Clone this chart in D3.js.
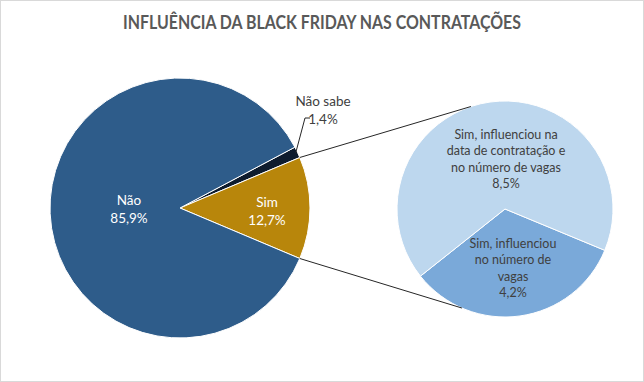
<!DOCTYPE html>
<html><head><meta charset="utf-8">
<script src="https://cdn.jsdelivr.net/npm/d3@7"></script>
<style>html,body{margin:0;padding:0;background:#fff;}svg{display:block;font-family:Lato,"Open Sans",sans-serif;}</style>
</head><body>
<svg id="c" width="644" height="382"></svg>
<script>
const title = "INFLUÊNCIA DA BLACK FRIDAY NAS CONTRATAÇÕES";
const mainLabels = ["Não sabe", "Sim", "Não"];
const mainValues = [1.4, 12.7, 85.9];
const mainText = ["1,4%", "12,7%", "85,9%"];
const subLabels = [["Sim, influenciou", "no número de", "vagas"], ["Sim, influenciou na", "data de contratação e", "no número de vagas"]];
const subValues = [4.2, 8.5];
const subText = ["4,2%", "8,5%"];

const svg = d3.select("#c");
svg.append("rect").attr("x",0.5).attr("y",0.5).attr("width",643).attr("height",381)
  .attr("fill","#fff").attr("stroke","#d9d9d9");

svg.append("text").attr("x",322).attr("y",29).attr("text-anchor","middle")
  .attr("font-size",18).attr("font-weight","bold").attr("fill","#595959")
  .attr("textLength",398).attr("lengthAdjust","spacingAndGlyphs").text(title);

// main pie
const mc = [180, 208], mr = 130;
const simDeg = 12.7/100*360;
const mainStart = (90 - simDeg/2 - 1.4/100*360) * Math.PI/180;
const mainPie = d3.pie().sort(null).value(d=>d).startAngle(mainStart).endAngle(mainStart + 2*Math.PI);
const mainArcs = mainPie(mainValues);
const mainColors = ["#0e1c2e", "#b8860b", "#2e5c8a"];
const arcM = d3.arc().innerRadius(0).outerRadius(mr);
const gm = svg.append("g").attr("transform",`translate(${mc})`);
gm.selectAll("path").data(mainArcs).join("path").attr("d",arcM)
  .attr("fill",(d,i)=>mainColors[i]).attr("stroke","#fff").attr("stroke-width",1);

// secondary pie
const sc = [505, 209], sr = 108;
const subStart = 112.5*Math.PI/180;
const subPie = d3.pie().sort(null).value(d=>d).startAngle(subStart).endAngle(subStart+2*Math.PI);
const subArcs = subPie(subValues);
const subColors = ["#7aa9d9", "#bdd7ee"];
const arcS = d3.arc().innerRadius(0).outerRadius(sr);
const gs = svg.append("g").attr("transform",`translate(${sc})`);
gs.selectAll("path").data(subArcs).join("path").attr("d",arcS)
  .attr("fill",(d,i)=>subColors[i]).attr("stroke","#fff").attr("stroke-width",1);

// connectors
const sim = mainArcs[1];
function pt(c, r, a){ return [c[0] + r*Math.sin(a), c[1] - r*Math.cos(a)]; }
const p1 = pt(mc, mr, sim.startAngle), p2 = pt(mc, mr, sim.endAngle);
const q1 = pt(sc, sr, 341.6*Math.PI/180), q2 = pt(sc, sr, 203.5*Math.PI/180);
svg.append("line").attr("x1",p1[0]).attr("y1",p1[1]).attr("x2",q1[0]).attr("y2",q1[1]).attr("stroke","#262626").attr("stroke-width",1);
svg.append("line").attr("x1",p2[0]).attr("y1",p2[1]).attr("x2",q2[0]).attr("y2",q2[1]).attr("stroke","#262626").attr("stroke-width",1);

// main labels
const fs = 13.5;
function lbl(x, y, lines, color, size){
  const t = svg.append("text").attr("text-anchor","middle").attr("font-size",size).attr("fill",color);
  lines.forEach((l,i)=> t.append("tspan").attr("x",x).attr("y",y + i*size*1.3).text(l));
}
lbl(129, 205, [mainLabels[2], mainText[2]], "#fff", fs);
lbl(267, 207, [mainLabels[1], mainText[1]], "#fff", fs);
lbl(323, 106, [mainLabels[0], mainText[0]], "#404040", fs);
// leader for Não sabe
const ns = mainArcs[0];
const np = pt(mc, mr - 2, (ns.startAngle+ns.endAngle)/2);
svg.append("polyline").attr("points",`310,118 305,118 ${np[0]},${np[1]}`)
  .attr("fill","none").attr("stroke","#262626").attr("stroke-width",1);

// sub labels
lbl(506, 139, subLabels[1].concat([subText[1]]), "#404040", 12.5);
lbl(513, 248, subLabels[0].concat([subText[0]]), "#404040", 12.5);
</script>
</body></html>
